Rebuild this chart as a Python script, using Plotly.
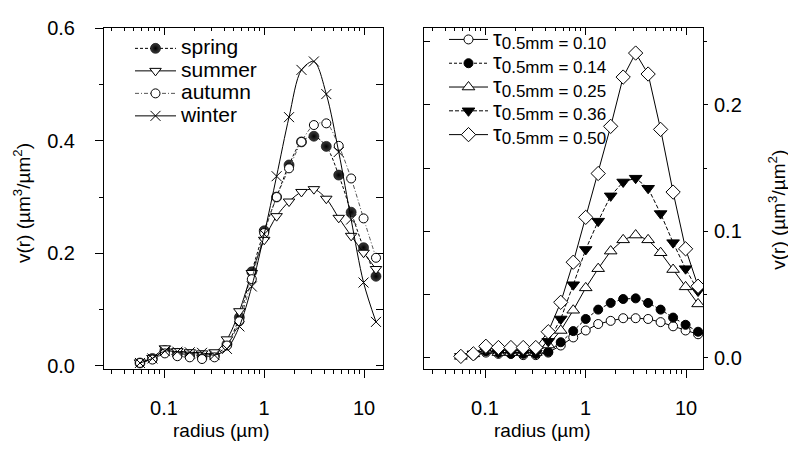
import plotly.graph_objects as go

# Particle radius bins (µm), shared by both panels
radius = [0.0575, 0.0766, 0.102, 0.136, 0.181, 0.240, 0.320, 0.426, 0.567, 0.755,
          1.005, 1.337, 1.780, 2.370, 3.154, 4.198, 5.588, 7.438, 9.90, 13.18]

# Left panel: seasonal mean volume size distributions
spring = [0.005, 0.013, 0.027, 0.022, 0.020, 0.018, 0.018, 0.038, 0.086, 0.167,
          0.240, 0.300, 0.357, 0.398, 0.408, 0.390, 0.339, 0.273, 0.210, 0.159]
summer = [0.006, 0.014, 0.031, 0.026, 0.024, 0.022, 0.024, 0.047, 0.097, 0.165,
          0.224, 0.266, 0.292, 0.309, 0.314, 0.297, 0.263, 0.231, 0.201, 0.172]
autumn = [0.005, 0.011, 0.022, 0.017, 0.015, 0.012, 0.015, 0.036, 0.079, 0.154,
          0.236, 0.300, 0.351, 0.398, 0.428, 0.431, 0.391, 0.333, 0.262, 0.192]
winter = [0.005, 0.013, 0.026, 0.025, 0.024, 0.023, 0.019, 0.030, 0.070, 0.141,
          0.234, 0.337, 0.442, 0.526, 0.541, 0.483, 0.380, 0.260, 0.148, 0.078]

# Right panel: distributions grouped by aerosol optical depth at 0.5 mm
tau_010 = [0.001, 0.002, 0.004, 0.003, 0.003, 0.002, 0.002, 0.004, 0.0096, 0.016,
           0.0215, 0.0266, 0.0291, 0.0312, 0.0312, 0.0306, 0.0281, 0.0248, 0.0215, 0.0185]
tau_014 = [0.001, 0.003, 0.005, 0.004, 0.003, 0.003, 0.003, 0.0046, 0.0122, 0.021,
           0.0306, 0.038, 0.0433, 0.0464, 0.0469, 0.0433, 0.038, 0.0317, 0.026, 0.0205]
tau_025 = [0.001, 0.003, 0.006, 0.004, 0.004, 0.004, 0.004, 0.010, 0.0215, 0.0375,
           0.0552, 0.0704, 0.0843, 0.0932, 0.097, 0.0932, 0.083, 0.0697, 0.056, 0.0425]
tau_036 = [0.001, 0.003, 0.006, 0.004, 0.004, 0.004, 0.0035, 0.0129, 0.0306, 0.0577,
           0.0856, 0.108, 0.128, 0.139, 0.142, 0.134, 0.114, 0.091, 0.0704, 0.0527]
tau_050 = [0.001, 0.003, 0.009, 0.008, 0.008, 0.008, 0.008, 0.0205, 0.0438, 0.0755,
           0.111, 0.1457, 0.183, 0.222, 0.241, 0.2244, 0.1806, 0.131, 0.0861, 0.0565]

season_names = ["spring", "summer", "autumn", "winter"]
tau_values = ["0.10", "0.14", "0.25", "0.36", "0.50"]

x_major = [0.1, 1, 10]
x_major_text = ["0.1", "1", "10"]
x_minor = [0.03, 0.04, 0.05, 0.06, 0.07, 0.08, 0.09,
           0.2, 0.3, 0.4, 0.5, 0.6, 0.7, 0.8, 0.9,
           2, 3, 4, 5, 6, 7, 8, 9]
left_y_major = [0.0, 0.2, 0.4, 0.6]
left_y_minor = [0.1, 0.3, 0.5]
right_y_major = [0.0, 0.1, 0.2]
right_y_minor = [0.05, 0.15, 0.25]

FONT = "Liberation Sans, Arial, sans-serif"
BLACK = "black"

fig = go.Figure()

# ---- left panel traces ----
season_styles = [
    (spring, dict(symbol="circle", size=10, color="#3c3c3c",
                  gradient=dict(type="radial", color="black"),
                  line=dict(color="black", width=0.6)),
     dict(dash="3px,2px")),
    (summer, dict(symbol="triangle-down", size=10, color="white",
                  line=dict(color="black", width=1)),
     dict(dash="solid")),
    (autumn, dict(symbol="circle", size=9, color="white",
                  line=dict(color="black", width=1)),
     dict(dash="4px,2px,1px,2px", color="#555555")),
    (winter, dict(symbol="x-thin", size=10, color="black",
                  line=dict(color="black", width=1)),
     dict(dash="solid")),
]
for name, (vals, marker, line) in zip(season_names, season_styles):
    ln = dict(color=BLACK, width=1, shape="spline", smoothing=0.9)
    ln.update(line)
    fig.add_trace(go.Scatter(x=radius, y=vals,
                             name='<span style="font-size:21px">' + name + '</span>',
                             mode="lines+markers", marker=marker, line=ln,
                             xaxis="x", yaxis="y", legend="legend"))

# ---- right panel traces ----
tau_styles = [
    (tau_010, dict(symbol="circle", size=9, color="white",
                   line=dict(color="black", width=1)), "solid"),
    (tau_014, dict(symbol="circle", size=9, color="black",
                   line=dict(color="black", width=1)), "3px,2px"),
    (tau_025, dict(symbol="triangle-up", size=11, color="white",
                   line=dict(color="black", width=1)), "solid"),
    (tau_036, dict(symbol="triangle-down", size=11, color="black",
                   line=dict(color="black", width=1)), "4px,2px"),
    (tau_050, dict(symbol="diamond", size=11, color="white",
                   line=dict(color="black", width=1)), "solid"),
]
for tv, (vals, marker, dash) in zip(tau_values, tau_styles):
    label = ('<span style="font-size:22px">τ</span>'
             '<sub><span style="font-size:17px">0.5mm = ' + tv + '</span></sub>')
    fig.add_trace(go.Scatter(x=radius, y=vals, name=label, mode="lines+markers",
                             marker=marker,
                             line=dict(color=BLACK, width=1, dash=dash),
                             xaxis="x2", yaxis="y2", legend="legend2"))

# Empty traces that bring the mirrored (inside-tick) axes to life
for xa, ya in [("x3", "y"), ("x", "y3"), ("x4", "y2"), ("x2", "y4")]:
    fig.add_trace(go.Scatter(x=[], y=[], xaxis=xa, yaxis=ya, showlegend=False,
                             hoverinfo="skip"))

W, H = 788, 452
left_dom = [104 / W, 383 / W]
right_dom = [424 / W, 703 / W]
y_dom = [1 - 373 / H, 1 - 18 / H]
left_xrange = [-1.60, 1.19]
right_xrange = [-1.607, 1.169]
left_yrange = [-0.006, 0.6]
right_yrange = [-0.0091, 0.2606]

tickfont = dict(family=FONT, size=20, color=BLACK)


def bottom_x(domain, rng, anchor):
    return dict(domain=domain, type="log", range=rng, anchor=anchor,
                tickmode="array", tickvals=x_major, ticktext=x_major_text,
                ticks="outside", ticklen=8, tickwidth=1, tickcolor=BLACK,
                minor=dict(tickmode="array", tickvals=x_minor, ticks="outside",
                           ticklen=4, tickwidth=1, tickcolor=BLACK, showgrid=False),
                showline=True, linecolor=BLACK, linewidth=1, mirror=True,
                showgrid=False, zeroline=False, tickfont=tickfont,
                ticklabelstandoff=13)


def top_x(over, rng, anchor):
    return dict(overlaying=over, side="top", anchor=anchor, type="log", range=rng,
                tickmode="array", tickvals=x_major, ticks="inside", ticklen=7,
                tickwidth=1, tickcolor=BLACK, showticklabels=False,
                minor=dict(tickmode="array", tickvals=x_minor, ticks="inside",
                           ticklen=3, tickwidth=1, tickcolor=BLACK, showgrid=False),
                showline=False, showgrid=False, zeroline=False)


fig.update_layout(
    width=W, height=H,
    margin=dict(l=0, r=0, t=0, b=0),
    paper_bgcolor="white", plot_bgcolor="white",
    font=dict(family=FONT, color=BLACK),
    xaxis=bottom_x(left_dom, left_xrange, "y"),
    xaxis2=bottom_x(right_dom, right_xrange, "y2"),
    xaxis3=top_x("x", left_xrange, "y"),
    xaxis4=top_x("x2", right_xrange, "y2"),
    yaxis=dict(domain=y_dom, range=left_yrange, anchor="x", side="left",
               tickmode="array", tickvals=left_y_major,
               ticktext=["%.1f" % v for v in left_y_major],
               ticks="outside", ticklen=8, tickwidth=1, tickcolor=BLACK,
               minor=dict(tickmode="array", tickvals=left_y_minor, ticks="outside",
                          ticklen=4, tickwidth=1, tickcolor=BLACK, showgrid=False),
               showline=True, linecolor=BLACK, linewidth=1, mirror=True,
               showgrid=False, zeroline=False, tickfont=tickfont,
               ticklabelstandoff=16),
    yaxis3=dict(overlaying="y", side="right", anchor="x", range=left_yrange,
                tickmode="array", tickvals=left_y_major + left_y_minor,
                ticks="inside", ticklen=7, tickwidth=1, tickcolor=BLACK,
                showticklabels=False, showline=False, showgrid=False,
                zeroline=False),
    yaxis2=dict(domain=y_dom, range=right_yrange, anchor="x2", side="right",
                tickmode="array", tickvals=right_y_major,
                ticktext=["%.1f" % v for v in right_y_major],
                ticks="outside", ticklen=4, tickwidth=1, tickcolor=BLACK,
                minor=dict(tickmode="array", tickvals=right_y_minor, ticks="outside",
                           ticklen=3, tickwidth=1, tickcolor=BLACK, showgrid=False),
                showline=True, linecolor=BLACK, linewidth=1, mirror=True,
                showgrid=False, zeroline=False, tickfont=tickfont,
                ticklabelstandoff=2),
    yaxis4=dict(overlaying="y2", side="left", anchor="x2", range=right_yrange,
                tickmode="array", tickvals=right_y_major + right_y_minor,
                ticks="inside", ticklen=6, tickwidth=1, tickcolor=BLACK,
                showticklabels=False, showline=False, showgrid=False,
                zeroline=False),
    legend=dict(x=130 / W, y=1 - 22 / H, xanchor="left", yanchor="top",
                bgcolor="rgba(0,0,0,0)", borderwidth=0, itemwidth=41,
                font=dict(family=FONT, size=15, color=BLACK),
                tracegroupgap=0),
    legend2=dict(x=444 / W, y=1 - 12 / H, xanchor="left", yanchor="top",
                 bgcolor="rgba(0,0,0,0)", borderwidth=0, itemwidth=39,
                 font=dict(family=FONT, size=16, color=BLACK),
                 tracegroupgap=0),
    showlegend=True,
)

ytitle = "v(r) (µm<sup>3</sup>/µm<sup>2</sup>)"
title_font = dict(family=FONT, size=19, color=BLACK)
common = dict(xref="paper", yref="paper", showarrow=False, font=title_font,
              xanchor="center", yanchor="middle")
fig.add_annotation(text=ytitle, x=22 / W, y=1 - 200 / H, textangle=-90, **common)
fig.add_annotation(text=ytitle, x=777 / W, y=1 - 207 / H, textangle=-90, **common)
fig.add_annotation(text="radius (µm)", x=221 / W, y=1 - 437 / H, **common)
fig.add_annotation(text="radius (µm)", x=542 / W, y=1 - 437 / H, **common)

fig.write_html("out.html")
